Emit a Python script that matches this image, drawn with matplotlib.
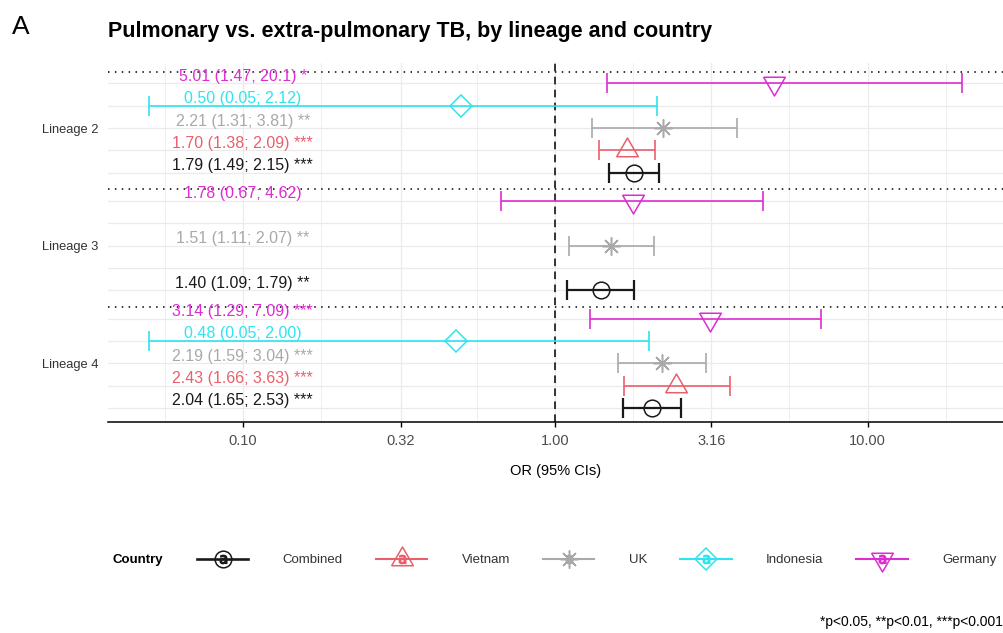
import numpy as np
import matplotlib
matplotlib.use("Agg")
import matplotlib.pyplot as plt
from matplotlib.lines import Line2D
from matplotlib.legend_handler import HandlerTuple
from matplotlib.ticker import FixedLocator, NullFormatter

plt.rcParams['font.family'] = ['Liberation Sans', 'DejaVu Sans']

# ---- data -------------------------------------------------------------
lineages = ["Lineage 2", "Lineage 3", "Lineage 4"]
countries = ["Germany", "Indonesia", "UK", "Vietnam", "Combined"]
legend_order = ["Combined", "Vietnam", "UK", "Indonesia", "Germany"]

row_lineage = ["Lineage 2"] * 5 + ["Lineage 3"] * 3 + ["Lineage 4"] * 5
row_country = ["Germany", "Indonesia", "UK", "Vietnam", "Combined",
               "Germany", "UK", "Combined",
               "Germany", "Indonesia", "UK", "Vietnam", "Combined"]
odds_ratio = [5.01, 0.50, 2.21, 1.70, 1.79,
              1.78, 1.51, 1.40,
              3.14, 0.48, 2.19, 2.43, 2.04]
ci_low = [1.47, 0.05, 1.31, 1.38, 1.49,
          0.67, 1.11, 1.09,
          1.29, 0.05, 1.59, 1.66, 1.65]
ci_high = [20.1, 2.12, 3.81, 2.09, 2.15,
           4.62, 2.07, 1.79,
           7.09, 2.00, 3.04, 3.63, 2.53]
stars = ["*", "", "**", "***", "***",
         "", "**", "**",
         "***", "", "***", "***", "***"]

x_ticks = [0.10, 0.32, 1.00, 3.16, 10.00]
x_tick_labels = ["0.10", "0.32", "1.00", "3.16", "10.00"]

# ---- styles -----------------------------------------------------------
tri_up = [(-1.0, -0.577), (1.0, -0.577), (0.0, 1.155), (-1.0, -0.577)]
tri_down = [(-1.0, 0.577), (1.0, 0.577), (0.0, -1.155), (-1.0, 0.577)]

colors = {"Combined": "#1a1a1a", "Vietnam": "#E8606C", "UK": "#A9A9A9",
          "Indonesia": "#2EE4EE", "Germany": "#DC2ED0"}
markers = {"Combined": "o", "Vietnam": tri_up, "UK": (8, 2, 0),
           "Indonesia": "D", "Germany": tri_down}
msizes = {"Combined": 12, "Vietnam": 18, "UK": 13, "Indonesia": 11.5,
          "Germany": 18}
lwidths = {"Combined": 1.6, "Vietnam": 1.2, "UK": 1.2, "Indonesia": 1.2,
           "Germany": 1.2}

group_center = {"Lineage 2": 3.0, "Lineage 3": 2.0, "Lineage 4": 1.0}
slot_step = 0.19


def ypos(lin, country):
    return group_center[lin] + (2 - countries.index(country)) * slot_step


def fmt(v):
    return f"{v:.3g}" if v >= 10 else f"{v:.2f}"


# ---- figure -----------------------------------------------------------
fig = plt.figure(figsize=(10.04, 6.33), dpi=100)
ax = fig.add_axes([108 / 1004, 1 - 422 / 633, 895 / 1004, (422 - 63.4) / 633])

ax.set_xscale("log")
lo_all = np.log10(min(ci_low))
hi_all = np.log10(max(ci_high))
pad = 0.05 * (hi_all - lo_all)
ax.set_xlim(10 ** (lo_all - pad), 10 ** (hi_all + pad))
ax.set_ylim(0.5, 3.55)

# grid
ax.xaxis.set_major_locator(FixedLocator(x_ticks))
ax.set_xticklabels(x_tick_labels)
minor = [10 ** (k / 2 + 0.25) for k in range(-4, 3)]
ax.xaxis.set_minor_locator(FixedLocator(minor))
ax.xaxis.set_minor_formatter(NullFormatter())
for xv in x_ticks:
    ax.axvline(xv, color="#EBEBEB", lw=0.9, zorder=0)
for xv in minor:
    ax.axvline(xv, color="#EBEBEB", lw=0.6, zorder=0)
for lin in lineages:
    for c in countries:
        ax.axhline(ypos(lin, c), color="#EBEBEB", lw=0.9, zorder=0)

# group separators and reference line
for lin in lineages:
    ax.axhline(group_center[lin] + 0.48, color="black", lw=1.1,
               ls=(0, (1, 3.5)), zorder=1)
ax.axvline(1.0, color="black", lw=1.1, ls=(0, (5, 3.5)), zorder=1)

# estimates with confidence intervals
for lin, c, o, lo, hi, s in zip(row_lineage, row_country, odds_ratio,
                                ci_low, ci_high, stars):
    y = ypos(lin, c)
    col = colors[c]
    ax.errorbar([o], [y], xerr=[[o - lo], [hi - o]], fmt="none",
                ecolor=col, elinewidth=lwidths[c], capsize=7.2,
                capthick=lwidths[c], zorder=3)
    ax.plot([o], [y], ls="none", marker=markers[c], ms=msizes[c],
            mfc="none", mec=col, mew=1.1, zorder=4)
    label = f"{fmt(o)} ({fmt(lo)}; {fmt(hi)})" + (f" {s}" if s else "")
    ax.text(0.1, y + 0.06, label, ha="center", va="center",
            fontsize=11.5, color=col, zorder=5)

# axes styling
for side in ["top", "right", "left"]:
    ax.spines[side].set_visible(False)
ax.spines["bottom"].set_linewidth(1.1)
ax.spines["bottom"].set_color("black")
ax.tick_params(axis="x", which="major", length=3.5, width=1.0,
               color="black", labelsize=10.5, labelcolor="#4D4D4D", pad=5)
ax.tick_params(axis="x", which="minor", length=0)
ax.set_yticks([group_center[l] for l in lineages])
ax.set_yticklabels(lineages)
ax.tick_params(axis="y", length=0, labelsize=9.3, labelcolor="#333333", pad=7)
ax.set_xlabel("OR (95% CIs)", fontsize=10.5, labelpad=12)

# titles
fig.text(12 / 1004, 1 - 27 / 633, "A", fontsize=19, va="center", ha="left")
fig.text(108 / 1004, 1 - 31 / 633,
         "Pulmonary vs. extra-pulmonary TB, by lineage and country",
         fontsize=15.5, fontweight="bold", va="center", ha="left")
fig.text(1003 / 1004, 1 - 622 / 633, "*p<0.05, **p<0.01, ***p<0.001",
         fontsize=10, ha="right", va="center")

# legend
handles = []
for c in legend_order:
    col = colors[c]
    ln = Line2D([], [], color=col, lw=lwidths[c] + 0.3, marker=markers[c],
                ms=msizes[c], mfc="none", mec=col, mew=1.1)
    key = Line2D([], [], ls="none", marker=r"$\mathsf{a}$", ms=6,
                 color=col)
    handles.append((ln, key))
fig.text(113 / 1004, 1 - 560 / 633, "Country", fontsize=9.5,
         fontweight="bold", va="center", ha="left")
fig.legend(handles, legend_order, loc="center left",
           bbox_to_anchor=(197 / 1004, 1 - 560 / 633), ncol=5,
           frameon=False, fontsize=9.5, handlelength=3.9,
           handletextpad=2.6, columnspacing=2.5, borderpad=0,
           borderaxespad=0, labelcolor="#333333",
           handler_map={tuple: HandlerTuple(ndivide=1, pad=0)})

fig.savefig("out.png", dpi=100)
